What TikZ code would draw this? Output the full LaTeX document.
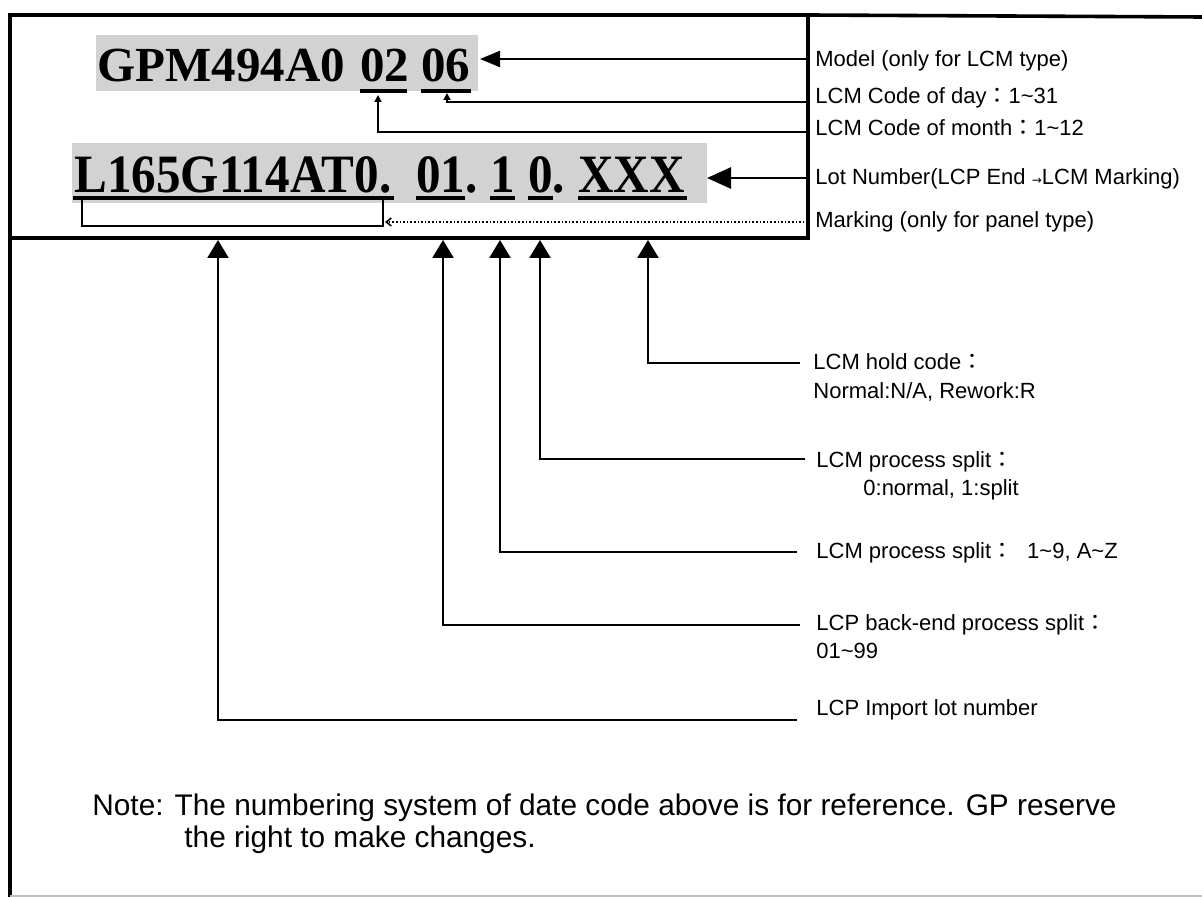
\documentclass[tikz,border=0pt]{standalone}
\usepackage{fontspec}
\usepackage{graphicx}
\setmainfont{Liberation Sans}
\newfontfamily\tnr{Liberation Serif}
\newfontfamily\cjk{Noto Sans CJK TC}
\newfontfamily\djv{DejaVu Sans}
\usetikzlibrary{arrows.meta}
\newcommand{\fwc}{{\cjk ：}}
\newcommand{\tild}{\textasciitilde}
\definecolor{hl}{RGB}{210,210,210}
\begin{document}
\begin{tikzpicture}[x=0.5pt,y=-0.5pt,
  lbl/.style={anchor=base west, inner sep=0pt, font=\fontsize{11}{13}\selectfont},
  notetxt/.style={anchor=base west, inner sep=0pt, font=\fontsize{14.9}{17}\selectfont},
  codeA/.style={anchor=base west, inner sep=0pt, font=\tnr\bfseries\fontsize{24.5}{28}\selectfont},
  codeB/.style={anchor=base west, inner sep=0pt, font=\tnr\bfseries\fontsize{27}{30}\selectfont},
  frameline/.style={line width=1.8pt},
  conn/.style={line width=1.1pt},
  uline/.style={line width=1.7pt},
  bigup/.style={-{Triangle[length=9pt,width=10.5pt]}},
  modeltip/.style={-{Triangle[length=10pt,width=8pt]}},
  lottip/.style={-{Triangle[length=12pt,width=10.5pt]}},
  smalltip/.style={-{Triangle[length=3.5pt,width=3.5pt]}},
  dotline/.style={line width=0.8pt, densely dotted, -{Straight Barb[length=2.5pt,width=4pt]}}
]
\useasboundingbox (0,0) rectangle (1202,897);
\fill[white] (0,0) rectangle (1202,897);

% highlights
\fill[hl] (96,35) rectangle (478,91);
\fill[hl] (72,143) rectangle (707,203);

% frame
\draw[frameline] (10,15) rectangle (808,238);
\draw[frameline] (808,15) -- (1202,17);
\draw[frameline] (10,238) -- (10,897);
\draw[gray!50, line width=1pt] (10,896) -- (1202,896);

% row 1
\node[codeA] (gpm) at (97,82) {GPM494A0};
\node[codeA] (mm) at (360,82) {02};
\node[codeA] (dd) at (421,82) {06};
\draw[uline] (360,91) -- (407,91);
\draw[uline] (421,91) -- (471,91);

% row 2
\node[codeB] (lotno) at (74,193) {\scalebox{0.91}[1]{L165G114AT0.}};
\node[codeB] (bk) at (416,193) {\scalebox{0.91}[1]{01.}};
\node[codeB] (ps) at (490,193) {\scalebox{0.91}[1]{1}};
\node[codeB] (ls) at (528,193) {\scalebox{0.91}[1]{0.}};
\node[codeB] (hc) at (578,193) {\scalebox{0.91}[1]{XXX}};
\draw[uline] (73,198) -- (394,198);
\draw[uline] (416,198) -- (465,198);
\draw[uline] (490,198) -- (515,198);
\draw[uline] (528,198) -- (553,198);
\draw[uline] (578,198) -- (687,198);

% bracket under lot number
\draw[conn] (82,200) -- (82,226) -- (383,226) -- (383,200);

% labels (top)
\node[lbl] (Lmodel) at (815,67) {Model (only for LCM type)};
\node[lbl] (Lday) at (815,104) {LCM Code of day\fwc 1\tild31};
\node[lbl] (Lmonth) at (815,136) {LCM Code of month\fwc 1\tild12};
\node[lbl] (Llot) at (815,185) {Lot Number(LCP End {\djv\fontsize{6}{7}\selectfont →}LCM Marking)};
\node[lbl] (Lmark) at (815,228) {Marking (only for panel type)};

% labels (lower)
\node[lbl] (Lhold) at (813,370) {LCM hold code\fwc};
\node[lbl] (Lhold2) at (813,398) {Normal:N/A, Rework:R};
\node[lbl] (Lps) at (816,467) {LCM process split\fwc};
\node[lbl] (Lps2) at (863,495) {0:normal, 1:split};
\node[lbl] (Lps9) at (816,558) {LCM process split\fwc\hspace{7pt}1\tild9, A\tild Z};
\node[lbl] (Lbk) at (816,630) {LCP back-end process split\fwc};
\node[lbl] (Lbk2) at (816,658) {01\tild99};
\node[lbl] (Limp) at (816,715) {LCP Import lot number};

% note
\node[notetxt] (n1) at (92,815) {Note: The numbering system of date code above is for reference. GP reserve};
\node[notetxt] (n2) at (184,847) {the right to make changes.};

% connector coordinates
\coordinate (sModel) at (808,59);
\coordinate (tModel) at (480,59);
\coordinate (sDay) at (808,102);
\coordinate (tDay) at (447,93);
\coordinate (sMonth) at (808,132);
\coordinate (tMonth) at (378,95);
\coordinate (sLot) at (808,178);
\coordinate (tLot) at (707,178);
\coordinate (sMark) at (808,222);
\coordinate (tMark) at (385,222);
\coordinate (sHold) at (800,363);
\coordinate (tHold) at (648,240);
\coordinate (sPs) at (805,459);
\coordinate (tPs) at (540,240);
\coordinate (sPs9) at (797,552);
\coordinate (tPs9) at (500,240);
\coordinate (sBk) at (800,625);
\coordinate (tBk) at (443,240);
\coordinate (sImp) at (797,720);
\coordinate (tImp) at (218,240);

% connectors
\draw[conn, modeltip] (sModel) -- (tModel);
\draw[conn, smalltip] (sDay) -| (tDay);
\draw[conn, smalltip] (sMonth) -| (tMonth);
\draw[line width=1.4pt, lottip] (sLot) -- (tLot);
\draw[dotline] (sMark) -- (tMark);
\draw[conn, bigup] (sHold) -| (tHold);
\draw[conn, bigup] (sPs) -| (tPs);
\draw[conn, bigup] (sPs9) -| (tPs9);
\draw[conn, bigup] (sBk) -| (tBk);
\draw[conn, bigup] (sImp) -| (tImp);
\end{tikzpicture}
\end{document}
